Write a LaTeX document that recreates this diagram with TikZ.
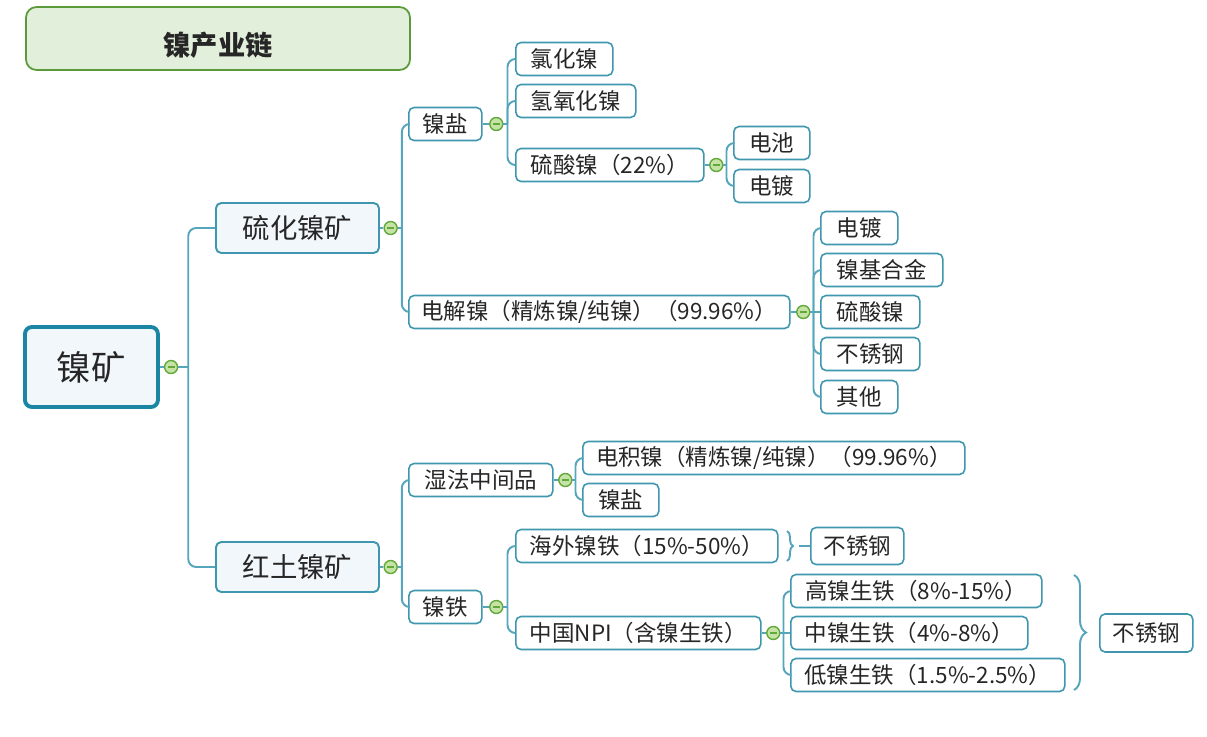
\documentclass[tikz,border=0pt]{standalone}
\usepackage{fontspec}
\setmainfont{Noto Sans CJK SC}
\usetikzlibrary{positioning,decorations.pathreplacing}
\definecolor{edge}{HTML}{55A5BC}
\definecolor{boxline}{HTML}{3E97AE}
\definecolor{rootline}{HTML}{1B86A3}
\definecolor{boxfill}{HTML}{F2F7FB}
\definecolor{foldfill}{HTML}{C6E3A6}
\definecolor{foldline}{HTML}{62A83A}
\definecolor{titlefill}{HTML}{E2EFDA}
\definecolor{titleline}{HTML}{5B9A3A}
\newlength\pxu
\setlength\pxu{0.02cm}

\begin{document}
\begin{tikzpicture}[x=0.02cm, y=-0.02cm,
    every node/.style={text=black!85},
    leaf/.style={draw=boxline, line width=0.9pt, fill=white, rounded corners=3pt, anchor=west,
        minimum height=33\pxu, inner sep=0pt, font=\fontsize{12.8}{15}\selectfont},
    branchbox/.style={draw=boxline, line width=1.1pt, fill=boxfill, rounded corners=3pt, anchor=west,
        minimum width=163\pxu, minimum height=50\pxu, inner sep=0pt, font=\fontsize{15.6}{18}\selectfont},
    rootbox/.style={draw=rootline, line width=2.2pt, fill=boxfill, rounded corners=4pt, anchor=west,
        minimum width=133\pxu, minimum height=80\pxu, inner sep=0pt, font=\fontsize{19.6}{22}\selectfont},
    fold/.style={circle, draw=foldline, fill=foldfill, line width=0.8pt, minimum size=13\pxu, inner sep=0pt,
        path picture={\draw[foldline, line width=0.8pt] ([xshift=-3.5\pxu]path picture bounding box.center)
            -- ([xshift=3.5\pxu]path picture bounding box.center);}},
    link/.style={draw=edge, line width=1.1pt},
    elbow/.style={link, rounded corners=4.5pt},
    brace/.style={link, decorate, decoration={brace, amplitude=#1}}]
    \useasboundingbox (0,0) rectangle (1207,737);

    % title
    \node[draw=titleline, line width=1pt, fill=titlefill, rounded corners=6pt, minimum width=384\pxu,
        minimum height=63\pxu, inner sep=0pt, text height=19.5pt, text depth=0pt,
        font=\fontsize{15.5}{18}\selectfont\bfseries] (title) at (218,38.5) {镍产业链};

    % root and first level
    \node[rootbox] (root) at (23,367) {镍矿};
    \node[fold, right=4\pxu of root] (c-root) {};
    \node[branchbox] (sulf) at (215,228) {硫化镍矿};
    \node[fold, right=3.5\pxu of sulf] (c-sulf) {};
    \node[branchbox] (lat) at (215,567) {红土镍矿};
    \node[fold, right=3.5\pxu of lat] (c-lat) {};

    % sulphide branch
    \node[leaf, minimum width=73\pxu] (salt) at (408,124) {镍盐};
    \node[fold, right=6.5\pxu of salt] (c-salt) {};
    \node[leaf, minimum width=381\pxu] (elec) at (408,312) {电解镍（精炼镍/纯镍）（99.96\%）};
    \node[fold, right=5.5\pxu of elec] (c-elec) {};
    \node[leaf, minimum width=97\pxu] (nicl) at (515,59) {氯化镍};
    \node[leaf, minimum width=120\pxu] (niox) at (515,101) {氢氧化镍};
    \node[leaf, minimum width=188\pxu] (niso) at (515,165) {硫酸镍（22\%）};
    \node[fold, right=4.5\pxu of niso] (c-niso) {};
    \node[leaf, minimum width=76\pxu] (bat) at (733,143) {电池};
    \node[leaf, minimum width=76\pxu] (plat1) at (733,186) {电镀};
    \node[leaf, minimum width=77\pxu] (plat2) at (820,228) {电镀};
    \node[leaf, minimum width=122\pxu] (alloy) at (820,270) {镍基合金};
    \node[leaf, minimum width=99\pxu] (niso2) at (820,312) {硫酸镍};
    \node[leaf, minimum width=99\pxu] (steel0) at (820,354) {不锈钢};
    \node[leaf, minimum width=77\pxu] (other) at (820,397) {其他};

    % laterite branch
    \node[leaf, minimum width=144\pxu] (wet) at (408,480) {湿法中间品};
    \node[fold, right=4.5\pxu of wet] (c-wet) {};
    \node[leaf, minimum width=73\pxu] (feni) at (408,607) {镍铁};
    \node[fold, right=6.5\pxu of feni] (c-feni) {};
    \node[leaf, minimum width=382\pxu] (ewn) at (582,458) {电积镍（精炼镍/纯镍）（99.96\%）};
    \node[leaf, minimum width=76\pxu] (salt2) at (582,500) {镍盐};
    \node[leaf, minimum width=262\pxu] (overseas) at (515,546) {海外镍铁（15\%-50\%）};
    \node[leaf, minimum width=245\pxu] (npi) at (515,633) {中国NPI（含镍生铁）};
    \node[fold, right=4.5\pxu of npi] (c-npi) {};
    \node[leaf, minimum width=251\pxu] (high) at (790,591) {高镍生铁（8\%-15\%）};
    \node[leaf, minimum width=237\pxu] (mid) at (790,633) {中镍生铁（4\%-8\%）};
    \node[leaf, minimum width=274\pxu] (low) at (790,675) {低镍生铁（1.5\%-2.5\%）};
    \node[leaf, minimum width=93\pxu, minimum height=37\pxu] (steel1) at (810,546) {不锈钢};
    \node[leaf, minimum width=93\pxu, minimum height=38\pxu] (steel2) at (1099,633) {不锈钢};

    % boxes to their fold marks
    \foreach \p in {root,sulf,lat,salt,elec,niso,wet,feni,npi}
        \draw[link] (\p.east) -- (c-\p.west);

    % forks
    \draw[link] (c-root.east) -- ++(10,0) coordinate (f-root);
    \foreach \k in {sulf,lat} \draw[elbow] (f-root) |- (\k.west);
    \draw[link] (c-sulf.east) -- ++(4,0) coordinate (f-sulf);
    \foreach \k in {salt,elec} \draw[elbow] (f-sulf) |- (\k.west);
    \draw[link] (c-salt.east) -- ++(4,0) coordinate (f-salt);
    \foreach \k in {nicl,niox,niso} \draw[elbow] (f-salt) |- (\k.west);
    \draw[link] (c-niso.east) -- ++(3,0) coordinate (f-niso);
    \foreach \k in {bat,plat1} \draw[elbow] (f-niso) |- (\k.west);
    \draw[link] (c-elec.east) -- ++(3,0) coordinate (f-elec);
    \foreach \k in {plat2,alloy,steel0,other} \draw[elbow] (f-elec) |- (\k.west);
    \draw[link] (f-elec) -- (niso2.west);
    \draw[link] (c-lat.east) -- ++(4,0) coordinate (f-lat);
    \foreach \k in {wet,feni} \draw[elbow] (f-lat) |- (\k.west);
    \draw[link] (c-wet.east) -- ++(3,0) coordinate (f-wet);
    \foreach \k in {ewn,salt2} \draw[elbow] (f-wet) |- (\k.west);
    \draw[link] (c-feni.east) -- ++(4,0) coordinate (f-feni);
    \foreach \k in {overseas,npi} \draw[elbow] (f-feni) |- (\k.west);
    \draw[link] (c-npi.east) -- ++(3,0) coordinate (f-npi);
    \foreach \k in {high,low} \draw[elbow] (f-npi) |- (\k.west);
    \draw[link] (f-npi) -- (mid.west);

    % braces
    \coordinate (b1top) at (787,531);
    \coordinate (b1bot) at (787,561);
    \coordinate (b1tip) at (799,546);
    \draw[brace=6\pxu] (b1top) -- (b1bot);
    \draw[link] (b1tip) -- (steel1.west);
    \coordinate (b2top) at (1074,575);
    \coordinate (b2bot) at (1074,690);
    \draw[brace=12\pxu] (b2top) -- (b2bot);
\end{tikzpicture}
\end{document}
